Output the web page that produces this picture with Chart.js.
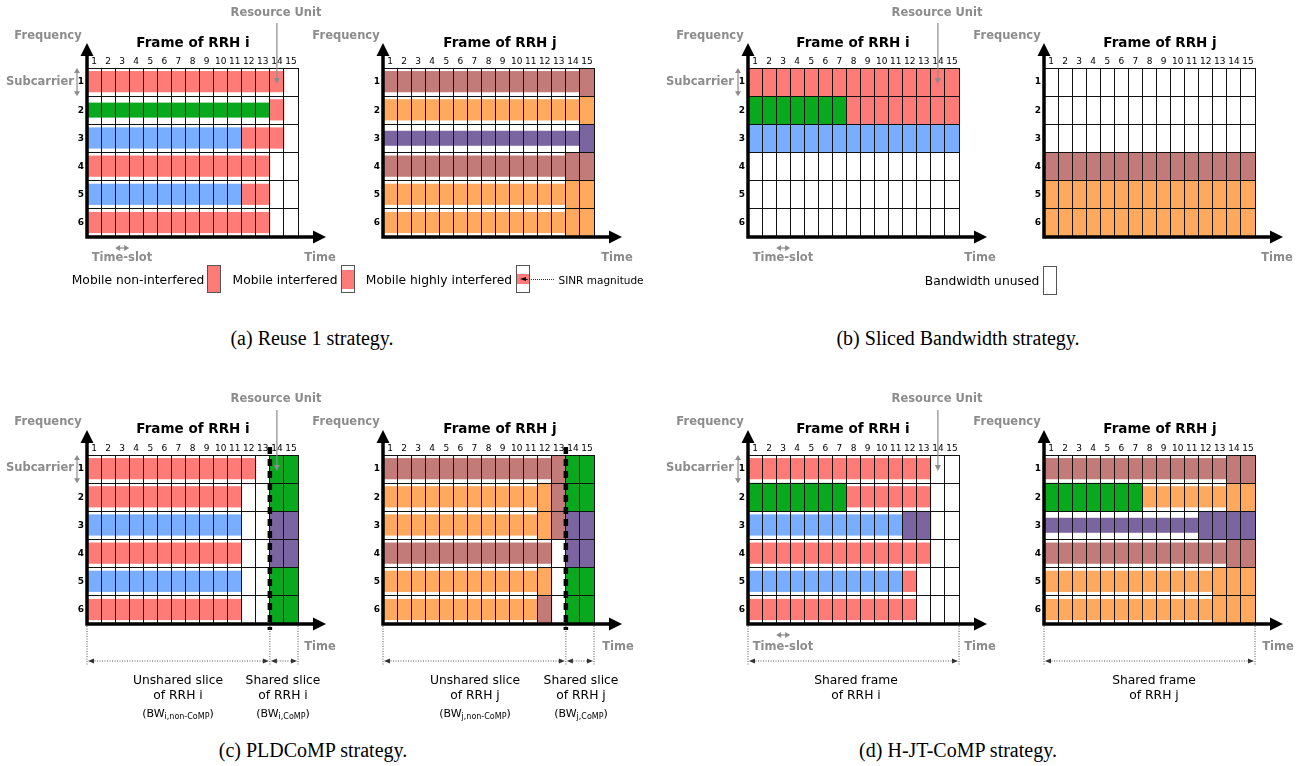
<!DOCTYPE html>
<html>
<head>
<meta charset="utf-8">
<script src="https://cdn.jsdelivr.net/npm/chart.js@4.4.1/dist/chart.umd.min.js"></script>
<style>
  body { margin: 0; background: #fff; }
  #page { position: relative; width: 1307px; height: 766px; overflow: hidden; font-family: "DejaVu Sans", sans-serif; }
  #page canvas { position: absolute; }
  .t { position: absolute; transform: translate(-50%, -50%); white-space: nowrap; line-height: 1; }
  .g { color: #8c8c8c; font-weight: bold; font-size: 11.5px; }
  .ttl { color: #000; font-weight: bold; font-size: 13.5px; }
  .n { color: #000; font-size: 12.3px; }
  .s { color: #000; font-size: 11px; }
  .s sub { font-size: 8px; vertical-align: -2px; }
  .m { color: #000; font-size: 10.5px; }
  .cap { font-family: "Liberation Serif", serif; font-size: 20px; color: #000; }
  .sw { position: absolute; border: 1px solid #555; background: #fff; box-sizing: border-box; }
  .sw div { position: absolute; left: 0; right: 0; background: #ff7b77; }
</style>
</head>
<body>
<div id="page"></div>
<script>
// eje x: time-slots, eje y: subcarriers
const slots = ['1', '2', '3', '4', '5', '6', '7', '8', '9', '10', '11', '12', '13', '14', '15'];
const subcarriers = ['1', '2', '3', '4', '5', '6'];

// colores de los moviles (una letra por resource unit, '.' = libre)
const palette = { R: '#ff7b77', G: '#09a91d', B: '#79aeff', N: '#c27b78', O: '#ffa95e', P: '#7b65a1' };
// nivel de SINR: 1 no interferido, 2 interferido, 3 muy interferido -> parte de la fila ocupada
const sinrSpan = { 1: [0, 1], 2: [0.12, 0.85], 3: [0.24, 0.75] };

// (a) Reuse 1
const reuseI_users = ['RRRRRRRRRRRRRR.', 'GGGGGGGGGGGGGR.', 'BBBBBBBBBBBRRR.', 'RRRRRRRRRRRRR..', 'BBBBBBBBBBBRR..', 'RRRRRRRRRRRRR..'];
const reuseI_sinr  = ['22222222222222.', '33333333333332.', '22222222222222.', '2222222222222..', '2222222222222..', '2222222222222..'];
const reuseJ_users = ['NNNNNNNNNNNNNNN', 'OOOOOOOOOOOOOOO', 'PPPPPPPPPPPPPPP', 'NNNNNNNNNNNNNNN', 'OOOOOOOOOOOOOOO', 'OOOOOOOOOOOOOOO'];
const reuseJ_sinr  = ['222222222222221', '222222222222221', '333333333333331', '222222222222211', '222222222222211', '222222222222211'];

// (b) Sliced Bandwidth
const slicedI_users = ['RRRRRRRRRRRRRRR', 'GGGGGGGRRRRRRRR', 'BBBBBBBBBBBBBBB', '...............', '...............', '...............'];
const slicedI_sinr  = ['111111111111111', '111111111111111', '111111111111111', '...............', '...............', '...............'];
const slicedJ_users = ['...............', '...............', '...............', 'NNNNNNNNNNNNNNN', 'OOOOOOOOOOOOOOO', 'OOOOOOOOOOOOOOO'];
const slicedJ_sinr  = ['...............', '...............', '...............', '111111111111111', '111111111111111', '111111111111111'];

// (c) PLDCoMP
const pldI_users = ['RRRRRRRRRRRR.GG', 'RRRRRRRRRRR..GG', 'BBBBBBBBBBB..PP', 'RRRRRRRRRRR..PP', 'BBBBBBBBBBB..GG', 'RRRRRRRRRRR..GG'];
const pldI_sinr  = ['222222222222.11', '22222222222..11', '22222222222..11', '22222222222..11', '22222222222..11', '22222222222..11'];
const pldJ_users = ['NNNNNNNNNNNNNGG', 'OOOOOOOOOOOONGG', 'OOOOOOOOOOOONPP', 'NNNNNNNNNNNN.PP', 'OOOOOOOOOOOO.GG', 'OOOOOOOOOOON.GG'];
const pldJ_sinr  = ['222222222222111', '222222222221111', '222222222221111', '222222222222.11', '222222222221.11', '222222222221.11'];

// (d) H-JT-CoMP
const hjtI_users = ['RRRRRRRRRRRRR..', 'GGGGGGGRRRRRR..', 'BBBBBBBBBBBPP..', 'RRRRRRRRRRRRR..', 'BBBBBBBBBBBR...', 'RRRRRRRRRRRR...'];
const hjtI_sinr  = ['2222222222222..', '1111111222222..', '2222222222211..', '2222222222222..', '222222222222...', '222222222222...'];
const hjtJ_users = ['NNNNNNNNNNNNNNN', 'GGGGGGGOOOOOOOO', 'PPPPPPPPPPPPPPP', 'NNNNNNNNNNNNNNN', 'OOOOOOOOOOOOOOO', 'OOOOOOOOOOOOOOO'];
const hjtJ_sinr  = ['222222222222211', '111111122222211', '333333333331111', '222222222222211', '222222222222111', '222222222222111'];

const page = document.getElementById('page');
const FONT = '"DejaVu Sans", sans-serif';

// flecha rellena con la punta en (x, y) y dirección (dx, dy)
function head(ctx, x, y, dx, dy, len, half) {
    const px = -dy, py = dx;
    ctx.beginPath();
    ctx.moveTo(x, y);
    ctx.lineTo(x - dx * len + px * half, y - dy * len + py * half);
    ctx.lineTo(x - dx * len - px * half, y - dy * len - py * half);
    ctx.closePath();
    ctx.fill();
}

// plugin para ejes con flecha, anotaciones y cotas
const decor = {
    id: 'decor',
    afterDraw(chart, args, o) {
        const ctx = chart.ctx, a = chart.chartArea, x = chart.scales.x, y = chart.scales.y;
        const w = x.getPixelForValue(1) - x.getPixelForValue(0);
        const edge = i => x.getPixelForValue(i) - w / 2;
        const rowH = y.getPixelForValue(1) - y.getPixelForValue(0);
        ctx.save();

        // ejes frecuencia / tiempo
        ctx.strokeStyle = '#000'; ctx.fillStyle = '#000'; ctx.lineWidth = 3.5;
        ctx.beginPath();
        ctx.moveTo(a.left, a.bottom + 1.7); ctx.lineTo(a.left, a.top - 14);
        ctx.moveTo(a.left - 1.7, a.bottom); ctx.lineTo(a.right + 16, a.bottom);
        ctx.stroke();
        head(ctx, a.left, a.top - 25, 0, -1, 13, 6.5);
        head(ctx, a.right + 28, a.bottom, 1, 0, 13, 6.5);

        ctx.strokeStyle = '#8c8c8c'; ctx.fillStyle = '#8c8c8c'; ctx.lineWidth = 1.2;
        if (o.resourceUnit) {
            const cx = x.getPixelForValue(13);
            ctx.beginPath(); ctx.moveTo(cx, a.top - 45); ctx.lineTo(cx, a.top + 10); ctx.stroke();
            head(ctx, cx, a.top + 16, 0, 1, 6, 3);
        }
        if (o.subcarrier) {
            const sx = a.left - 10;
            ctx.beginPath(); ctx.moveTo(sx, a.top + 4); ctx.lineTo(sx, a.top + rowH - 4); ctx.stroke();
            head(ctx, sx, a.top, 0, -1, 5, 3);
            head(ctx, sx, a.top + rowH, 0, 1, 5, 3);
        }
        if (o.timeSlot) {
            const ty = a.bottom + 11;
            ctx.beginPath(); ctx.moveTo(edge(2) + 4, ty); ctx.lineTo(edge(3) - 4, ty); ctx.stroke();
            head(ctx, edge(2), ty, -1, 0, 5, 3);
            head(ctx, edge(3), ty, 1, 0, 5, 3);
        }
        if (o.split) {
            const dx = edge(13);
            ctx.strokeStyle = '#000'; ctx.lineWidth = 4.5; ctx.setLineDash([7, 5]);
            ctx.beginPath(); ctx.moveTo(dx, a.top - 8); ctx.lineTo(dx, a.bottom + 6); ctx.stroke();
        }
        if (o.bounds) {
            const xs = o.bounds.map(i => i === 15 ? a.right : edge(i));
            const by = a.bottom + 37;
            ctx.strokeStyle = '#555'; ctx.fillStyle = '#333'; ctx.lineWidth = 1; ctx.setLineDash([1, 1.5]);
            ctx.beginPath();
            xs.forEach(v => { ctx.moveTo(v, a.bottom + 2); ctx.lineTo(v, a.bottom + 41); });
            for (let i = 0; i < xs.length - 1; i++) { ctx.moveTo(xs[i] + 5, by); ctx.lineTo(xs[i + 1] - 5, by); }
            ctx.stroke();
            ctx.setLineDash([]);
            for (let i = 0; i < xs.length - 1; i++) {
                head(ctx, xs[i] + 1, by, -1, 0, 6, 2.5);
                head(ctx, xs[i + 1] - 1, by, 1, 0, 6, 2.5);
            }
        }
        ctx.restore();
    }
};

function drawFrame(f) {
    const W = 340, H = 300;
    const cv = document.createElement('canvas');
    cv.width = W; cv.height = H;
    cv.style.left = (f.left - 90) + 'px';
    cv.style.top = f.top + 'px';
    page.appendChild(cv);
    const top = f.gridTop - f.top;

    const datasets = f.users.map((row, k) => ({
        yAxisID: 'y',
        data: slots.map((s, c) => row[c] === '.' ? null : [k + sinrSpan[f.sinr[k][c]][0], k + sinrSpan[f.sinr[k][c]][1]]),
        backgroundColor: slots.map((s, c) => palette[row[c]] || 'rgba(0,0,0,0)'),
        borderWidth: 0,
        grouped: false,
        barPercentage: 1,
        categoryPercentage: 1
    }));

    new Chart(cv, {
        type: 'bar',
        data: { labels: slots, datasets: datasets },
        options: {
            responsive: false,
            animation: false,
            layout: { padding: { left: 78, right: W - 90 - 211, top: top - 14, bottom: H - top - 169 } },
            plugins: { legend: { display: false }, tooltip: { enabled: false }, decor: f.decor },
            scales: {
                x: {
                    position: 'top', offset: true,
                    grid: { offset: true, color: '#111', lineWidth: 1, z: 1, drawTicks: false, tickLength: 0 },
                    border: { display: false },
                    ticks: { autoSkip: false, maxRotation: 0, color: '#000', padding: 1, font: { family: FONT, size: 9 } },
                    afterFit: s => { s.height = 14; }
                },
                y: {
                    type: 'linear', reverse: true, min: 0, max: 6,
                    ticks: { stepSize: 1, display: false },
                    grid: { color: '#111', lineWidth: 1, z: 1, drawTicks: false },
                    border: { display: false },
                    afterFit: s => { s.width = 0; }
                },
                rows: {
                    type: 'category', labels: subcarriers, position: 'left', offset: true,
                    grid: { display: false, drawTicks: false },
                    border: { display: false },
                    ticks: { color: '#000', padding: 3, font: { family: FONT, size: 9, weight: 'bold' } },
                    afterFit: s => { s.width = 12; }
                }
            }
        },
        plugins: [decor]
    });
}

const frames = [
    { users: reuseI_users, sinr: reuseI_sinr, left: 87, top: 0, gridTop: 68, decor: { resourceUnit: true, subcarrier: true, timeSlot: true } },
    { users: reuseJ_users, sinr: reuseJ_sinr, left: 383, top: 0, gridTop: 68, decor: {} },
    { users: slicedI_users, sinr: slicedI_sinr, left: 748, top: 0, gridTop: 68, decor: { resourceUnit: true, subcarrier: true, timeSlot: true } },
    { users: slicedJ_users, sinr: slicedJ_sinr, left: 1044, top: 0, gridTop: 68, decor: {} },
    { users: pldI_users, sinr: pldI_sinr, left: 87, top: 380, gridTop: 455, decor: { resourceUnit: true, subcarrier: true, split: true, bounds: [0, 13, 15] } },
    { users: pldJ_users, sinr: pldJ_sinr, left: 383, top: 380, gridTop: 455, decor: { split: true, bounds: [0, 13, 15] } },
    { users: hjtI_users, sinr: hjtI_sinr, left: 748, top: 380, gridTop: 455, decor: { resourceUnit: true, subcarrier: true, timeSlot: true, bounds: [0, 15] } },
    { users: hjtJ_users, sinr: hjtJ_sinr, left: 1044, top: 380, gridTop: 455, decor: { bounds: [0, 15] } }
];
frames.forEach(drawFrame);

// textos
function label(html, x, y, cls) {
    const d = document.createElement('div');
    d.className = 't ' + cls;
    d.style.left = x + 'px'; d.style.top = y + 'px';
    d.innerHTML = html;
    page.appendChild(d);
}
[0, 386].forEach((dy, r) => {
    label('Resource Unit', 276, 13 + dy, 'g');
    label('Resource Unit', 937, 13 + dy, 'g');
    [48, 346, 710, 1007].forEach(v => label('Frequency', v, 36 + dy, 'g'));
    label('Frame of RRH i', 193, 43 + dy, 'ttl');
    label('Frame of RRH j', 500, 43 + dy, 'ttl');
    label('Frame of RRH i', 853, 43 + dy, 'ttl');
    label('Frame of RRH j', 1160, 43 + dy, 'ttl');
    label('Subcarrier', 40, 82 + dy, 'g');
    label('Subcarrier', 700, 82 + dy, 'g');
});
[[320, 258], [617, 258], [980, 258], [1277, 258], [320, 647], [618, 647], [980, 647], [1278, 647]].forEach(p => label('Time', p[0], p[1], 'g'));
label('Time-slot', 122, 258, 'g');
label('Time-slot', 783, 258, 'g');
label('Time-slot', 783, 647, 'g');

// leyendas
label('Mobile non-interfered', 138, 280, 'n');
label('Mobile interfered', 285, 280, 'n');
label('Mobile highly interfered', 439, 280, 'n');
label('SINR magnitude', 601, 280, 'm');
label('Bandwidth unused', 982, 281, 'n');
function swatch(x, y, h, f0, f1) {
    const d = document.createElement('div');
    d.className = 'sw';
    d.style.left = x + 'px'; d.style.top = y + 'px'; d.style.width = '14px'; d.style.height = h + 'px';
    if (f1 > f0) {
        const i = document.createElement('div');
        i.style.top = f0 + 'px'; i.style.height = (f1 - f0) + 'px';
        d.appendChild(i);
    }
    page.appendChild(d);
}
swatch(207, 265, 28, 0, 26);
swatch(341, 265, 28, 4, 23);
swatch(516, 265, 28, 8, 18);
swatch(1043, 266, 29, 0, 0);
const sinr = document.createElement('div');
sinr.style.cssText = 'position:absolute;left:526px;top:279px;width:28px;border-top:1px dotted #333;';
page.appendChild(sinr);
const tip = document.createElement('div');
tip.style.cssText = 'position:absolute;left:520px;top:277px;width:0;height:0;border-top:2.5px solid transparent;border-bottom:2.5px solid transparent;border-right:6px solid #000;';
page.appendChild(tip);

// cotas de (c) y (d)
label('Unshared slice', 178, 680, 'n'); label('of RRH i', 178, 695, 'n');
label('(BW<sub>i,non-CoMP</sub>)', 178, 714, 's');
label('Shared slice', 283, 680, 'n'); label('of RRH i', 283, 695, 'n');
label('(BW<sub>i,CoMP</sub>)', 283, 714, 's');
label('Unshared slice', 475, 680, 'n'); label('of RRH j', 475, 695, 'n');
label('(BW<sub>j,non-CoMP</sub>)', 475, 714, 's');
label('Shared slice', 581, 680, 'n'); label('of RRH j', 581, 695, 'n');
label('(BW<sub>j,CoMP</sub>)', 581, 714, 's');
label('Shared frame', 856, 680, 'n'); label('of RRH i', 856, 695, 'n');
label('Shared frame', 1154, 680, 'n'); label('of RRH j', 1154, 695, 'n');

// pies de figura
label('(a) Reuse 1 strategy.', 312, 338, 'cap');
label('(b) Sliced Bandwidth strategy.', 958, 338, 'cap');
label('(c) PLDCoMP strategy.', 313, 750, 'cap');
label('(d) H-JT-CoMP strategy.', 958, 750, 'cap');
</script>
</body>
</html>
